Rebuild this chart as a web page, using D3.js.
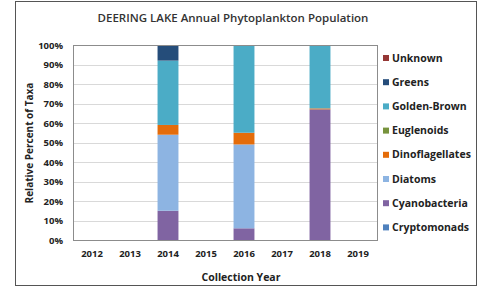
<!DOCTYPE html>
<html>
<head>
<meta charset="utf-8">
<script src="https://cdn.jsdelivr.net/npm/d3@7"></script>
<style>
  body { margin: 0; background: #fff; }
  text { font-family: "Open Sans", "DejaVu Sans", sans-serif; }
</style>
</head>
<body>
<div id="chart"></div>
<script>
var years = ["2012", "2013", "2014", "2015", "2016", "2017", "2018", "2019"];
var taxa = ["Cryptomonads", "Cyanobacteria", "Diatoms", "Dinoflagellates", "Euglenoids", "Golden-Brown", "Greens", "Unknown"];
var colors = ["#4F81BD", "#8064A2", "#8DB4E2", "#E46C0A", "#77933C", "#4BACC6", "#254D7A", "#953735"];

// percent of taxa per year, in the order of taxa above
var cryptomonads    = [0, 0, 0,  0, 0,  0, 0,    0];
var cyanobacteria   = [0, 0, 15, 0, 6,  0, 67,   0];
var diatoms         = [0, 0, 39, 0, 43, 0, 0,    0];
var dinoflagellates = [0, 0, 5,  0, 6,  0, 0.5,  0];
var euglenoids      = [0, 0, 0,  0, 0,  0, 0,    0];
var goldenBrown     = [0, 0, 33, 0, 45, 0, 32.5, 0];
var greens          = [0, 0, 8,  0, 0,  0, 0,    0];
var unknown         = [0, 0, 0,  0, 0,  0, 0,    0];
var yTicks = [0, 10, 20, 30, 40, 50, 60, 70, 80, 90, 100];

var series = [cryptomonads, cyanobacteria, diatoms, dinoflagellates, euglenoids, goldenBrown, greens, unknown];

var w = 481, h = 287;
var plotLeft = 73, plotRight = 377, plotTop = 45, plotBottom = 240;

var rows = years.map(function(y, i) {
  var r = { year: y };
  taxa.forEach(function(t, j) { r[t] = series[j][i]; });
  return r;
});
var stacked = d3.stack().keys(taxa)(rows);

var x = d3.scaleBand().domain(years).range([plotLeft, plotRight]).paddingInner(0.45).paddingOuter(0.225);
var y = d3.scaleLinear().domain([0, 100]).range([plotBottom, plotTop]);

var svg = d3.select("#chart").append("svg")
  .attr("width", w)
  .attr("height", h);

svg.append("rect")
  .attr("x", 15.5).attr("y", 1.5)
  .attr("width", 461).attr("height", 284)
  .attr("fill", "#fff")
  .attr("stroke", "#555")
  .attr("stroke-width", 1);

// gridlines
svg.append("g")
  .selectAll("line")
  .data(yTicks)
  .join("line")
  .attr("x1", plotLeft).attr("x2", plotRight)
  .attr("y1", function(d) { return Math.round(y(d)) + 0.5; })
  .attr("y2", function(d) { return Math.round(y(d)) + 0.5; })
  .attr("stroke", "#D9D9D9");

// bars
svg.append("g")
  .selectAll("g")
  .data(stacked)
  .join("g")
  .attr("fill", function(d, i) { return colors[i]; })
  .selectAll("rect")
  .data(function(d) { return d; })
  .join("rect")
  .attr("x", function(d) { return x(d.data.year); })
  .attr("width", x.bandwidth())
  .attr("y", function(d) { return y(d[1]); })
  .attr("height", function(d) { return y(d[0]) - y(d[1]); });

// plot border
svg.append("rect")
  .attr("x", plotLeft + 0.5).attr("y", plotTop + 0.5)
  .attr("width", plotRight - plotLeft).attr("height", plotBottom - plotTop)
  .attr("fill", "none")
  .attr("stroke", "#8C8C8C");

// y axis
var yAxis = svg.append("g")
  .attr("transform", "translate(" + (plotLeft - 4) + ",0)")
  .call(d3.axisLeft(y).tickValues(yTicks).tickSize(0).tickFormat(function(d) { return d + "%"; }));
yAxis.select(".domain").remove();
yAxis.selectAll("text")
  .attr("x", -6)
  .attr("fill", "#222")
  .style("font-size", "9.5px")
  .style("font-weight", "bold");

// x axis
var xAxis = svg.append("g")
  .attr("transform", "translate(0," + plotBottom + ")")
  .call(d3.axisBottom(x).tickSize(0));
xAxis.select(".domain").remove();
xAxis.selectAll("text")
  .attr("y", 10)
  .attr("fill", "#222")
  .style("font-size", "9.5px")
  .style("font-weight", "bold");

// titles
svg.append("text")
  .attr("x", 233).attr("y", 22)
  .attr("text-anchor", "middle")
  .attr("fill", "#333")
  .style("font-size", "11.5px")
  .style("font-weight", "600")
  .text("DEERING  LAKE Annual Phytoplankton Population");

svg.append("text")
  .attr("transform", "translate(33,143) rotate(-90)")
  .attr("text-anchor", "middle")
  .attr("fill", "#222")
  .style("font-size", "10px")
  .style("font-weight", "bold")
  .text("Relative Percent of Taxa");

svg.append("text")
  .attr("x", 241).attr("y", 281)
  .attr("text-anchor", "middle")
  .attr("fill", "#222")
  .style("font-size", "10.5px")
  .style("font-weight", "bold")
  .text("Collection Year");

// legend, top to bottom reversed
var legend = svg.append("g")
  .selectAll("g")
  .data(taxa.slice().reverse())
  .join("g")
  .attr("transform", function(d, i) { return "translate(383," + (58 + i * 24.2) + ")"; });
legend.append("rect")
  .attr("x", 0).attr("y", -3)
  .attr("width", 6).attr("height", 6)
  .attr("fill", function(d) { return colors[taxa.indexOf(d)]; });
legend.append("text")
  .attr("x", 9).attr("y", 3.5)
  .attr("fill", "#222")
  .style("font-size", "10.5px")
  .style("font-weight", "bold")
  .text(function(d) { return d; });
</script>
</body>
</html>
